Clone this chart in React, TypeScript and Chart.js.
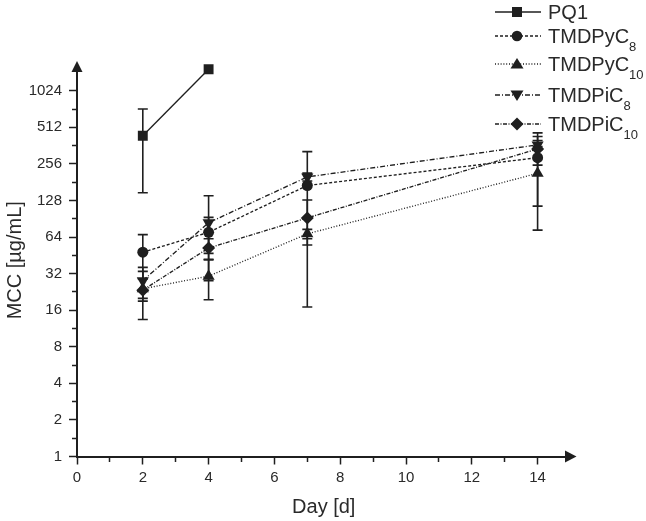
import { useEffect, useRef } from 'react';
import { Chart, registerables } from 'chart.js';

Chart.register(...registerables);

// sampling days
const days = [2, 4, 7, 14];

// MCC values [µg/mL] and standard deviations
const pq1 = [436, 1540];
const pq1Err = [288, 0];
const pyC8 = [48, 70, 170, 288];
const pyC8Err = [19, 23, 153, 173];
const pyC10 = [24, 30.5, 68, 214];
const pyC10Err = [5, 11, 6, 141];
const piC8 = [28, 84, 200, 367];
const piC8Err = [8, 56, 15, 32];
const piC10 = [23.4, 52, 92, 340];
const piC10Err = [10, 10, 37, 90];

const seriesNames = ['PQ1', 'TMDPyC', 'TMDPyC', 'TMDPiC', 'TMDPiC'];
const seriesSubs = ['', '8', '10', '8', '10'];

const yTickLabels = ['1', '2', '4', '8', '16', '32', '64', '128', '256', '512', '1024'];
const xTickLabels = ['0', '2', '4', '6', '8', '10', '12', '14'];

const seriesValues = [pq1, pyC8, pyC10, piC8, piC10];
const seriesErrors = [pq1Err, pyC8Err, pyC10Err, piC8Err, piC10Err];

const INK = '#1f1f1f';
const TEXT = '#2a2a2a';
const FONT = "'Liberation Sans', Arial, sans-serif";

const styles = [
  { dash: [], point: 'rect', radius: 7, rotation: 0 },
  { dash: [3, 2], point: 'circle', radius: 5.5, rotation: 0 },
  { dash: [1, 1.8], point: 'triangle', radius: 7, rotation: 0 },
  { dash: [5, 2, 1, 2], point: 'triangle', radius: 7, rotation: 180 },
  { dash: [4, 1.5, 1, 1.5], point: 'rectRot', radius: 6.5, rotation: 0 },
];

// minor ticks halfway (in log space) between the labelled ones
const yMajor = yTickLabels.map(Number);
const yTicks: number[] = [];
yMajor.forEach((v, i) => {
  yTicks.push(v);
  if (i < yMajor.length - 1) yTicks.push(v * Math.SQRT2);
});
const xTicks: number[] = [];
for (let d = 0; d <= 14; d++) xTicks.push(d);

const errorBars = {
  id: 'errorBars',
  beforeDatasetsDraw(chart: any) {
    const { ctx, scales } = chart;
    const x = scales.x;
    const y = scales.y;
    ctx.save();
    ctx.strokeStyle = INK;
    ctx.lineWidth = 1.6;
    seriesValues.forEach((vals, si) => {
      const errs = seriesErrors[si];
      vals.forEach((v, i) => {
        const e = errs[i];
        if (!e) return;
        const px = x.getPixelForValue(days[i]);
        const top = y.getPixelForValue(v + e);
        const bot = y.getPixelForValue(Math.max(v - e, 1));
        ctx.beginPath();
        ctx.moveTo(px, top);
        ctx.lineTo(px, bot);
        ctx.moveTo(px - 5, top);
        ctx.lineTo(px + 5, top);
        ctx.moveTo(px - 5, bot);
        ctx.lineTo(px + 5, bot);
        ctx.stroke();
      });
    });
    ctx.restore();
  },
};

const axisArrows = {
  id: 'axisArrows',
  afterDraw(chart: any) {
    const { ctx, chartArea } = chart;
    const { left, right, top, bottom } = chartArea;
    ctx.save();
    ctx.fillStyle = INK;
    ctx.beginPath();
    ctx.moveTo(left, top - 3);
    ctx.lineTo(left + 5.5, top + 8);
    ctx.lineTo(left - 5.5, top + 8);
    ctx.closePath();
    ctx.fill();
    ctx.beginPath();
    ctx.moveTo(right + 6, bottom);
    ctx.lineTo(right - 5.5, bottom - 6);
    ctx.lineTo(right - 5.5, bottom + 6);
    ctx.closePath();
    ctx.fill();
    ctx.restore();
  },
};

const legendRows = [12, 36, 64, 95, 124];

function Marker({ kind }: { kind: number }) {
  if (kind === 0) return <rect x={17} y={3} width={10} height={10} fill={INK} />;
  if (kind === 1) return <circle cx={22} cy={8} r={5.3} fill={INK} />;
  if (kind === 2) return <polygon points="22,2 28.5,12.5 15.5,12.5" fill={INK} />;
  if (kind === 3) return <polygon points="15.5,3.5 28.5,3.5 22,14" fill={INK} />;
  return <polygon points="22,1.5 28.5,8 22,14.5 15.5,8" fill={INK} />;
}

function Legend() {
  return (
    <>
      {seriesNames.map((name, i) => (
        <div key={i}>
          <svg
            width={46}
            height={16}
            style={{ position: 'absolute', left: 495, top: legendRows[i] - 8 }}
          >
            <line
              x1={0}
              y1={8}
              x2={46}
              y2={8}
              stroke={INK}
              strokeWidth={1.3}
              strokeDasharray={styles[i].dash.length ? styles[i].dash.join(' ') : undefined}
            />
            <Marker kind={i} />
          </svg>
          <div
            style={{
              position: 'absolute',
              left: 548,
              top: legendRows[i] - 10,
              fontFamily: FONT,
              fontSize: 20,
              lineHeight: '20px',
              color: TEXT,
              whiteSpace: 'nowrap',
            }}
          >
            {name}
            {seriesSubs[i] && (
              <span style={{ fontSize: 13, verticalAlign: -8, lineHeight: 0 }}>{seriesSubs[i]}</span>
            )}
          </div>
        </div>
      ))}
    </>
  );
}

export default function App() {
  const canvasRef = useRef<HTMLCanvasElement>(null);
  const chartRef = useRef<Chart | null>(null);

  useEffect(() => {
    if (!canvasRef.current) return;
    if (chartRef.current) chartRef.current.destroy();

    const datasets = seriesValues.map((vals, i) => ({
      label: seriesNames[i] + seriesSubs[i],
      data: vals.map((v, j) => ({ x: days[j], y: v })),
      borderColor: INK,
      backgroundColor: INK,
      borderWidth: 1.35,
      borderDash: styles[i].dash,
      pointStyle: styles[i].point as any,
      pointRadius: styles[i].radius,
      pointRotation: styles[i].rotation,
      pointBorderWidth: 0,
      showLine: true,
      fill: false,
      tension: 0,
    }));

    chartRef.current = new Chart(canvasRef.current, {
      type: 'line',
      data: { datasets },
      options: {
        animation: false,
        responsive: true,
        maintainAspectRatio: false,
        events: [],
        layout: { padding: { left: 0, right: 75.5, top: 64, bottom: 0 } },
        plugins: {
          legend: { display: false },
          tooltip: { enabled: false },
        },
        scales: {
          x: {
            type: 'linear',
            min: 0,
            max: 15,
            afterBuildTicks: (s: any) => {
              s.ticks = xTicks.map((v) => ({ value: v }));
            },
            afterFit: (s: any) => {
              s.height = 64.5;
            },
            border: { color: INK, width: 2 },
            grid: {
              drawOnChartArea: false,
              tickLength: 8,
              tickColor: INK,
              tickWidth: 1.5,
              tickBorderDash: (c: any) => (c.tick && c.tick.value % 2 ? [4, 100] : []),
            },
            ticks: {
              autoSkip: false,
              maxRotation: 0,
              padding: 4,
              color: TEXT,
              font: { size: 15, family: FONT },
              callback: (v: any) => {
                const idx = xTickLabels.indexOf(String(v));
                return idx >= 0 ? xTickLabels[idx] : '';
              },
            },
            title: {
              display: true,
              text: 'Day [d]',
              color: TEXT,
              font: { size: 20, family: FONT },
              padding: { top: 0, bottom: 2 },
            },
          },
          y: {
            type: 'logarithmic',
            min: 1,
            max: 1700,
            afterBuildTicks: (s: any) => {
              s.ticks = yTicks.map((v) => ({ value: v }));
            },
            afterFit: (s: any) => {
              s.width = 77;
            },
            border: { color: INK, width: 2 },
            grid: {
              drawOnChartArea: false,
              tickLength: 8,
              tickColor: INK,
              tickWidth: 1.5,
              tickBorderDash: (c: any) =>
                c.tick && yTickLabels.indexOf(String(c.tick.value)) < 0 ? [0, 3, 6, 100] : [],
            },
            ticks: {
              autoSkip: false,
              padding: 7,
              color: TEXT,
              font: { size: 15, family: FONT },
              callback: (v: any) => {
                const idx = yTickLabels.indexOf(String(v));
                return idx >= 0 ? yTickLabels[idx] : '';
              },
            },
            title: {
              display: true,
              text: 'MCC [µg/mL]',
              color: TEXT,
              font: { size: 20, family: FONT },
              padding: { top: 3, bottom: 0 },
            },
          },
        },
      },
      plugins: [errorBars, axisArrows],
    });

    return () => {
      if (chartRef.current) {
        chartRef.current.destroy();
        chartRef.current = null;
      }
    };
  }, []);

  return (
    <div style={{ position: 'absolute', left: 0, top: 0, width: 646, height: 521, background: '#fff' }}>
      <canvas ref={canvasRef} />
      <Legend />
    </div>
  );
}
